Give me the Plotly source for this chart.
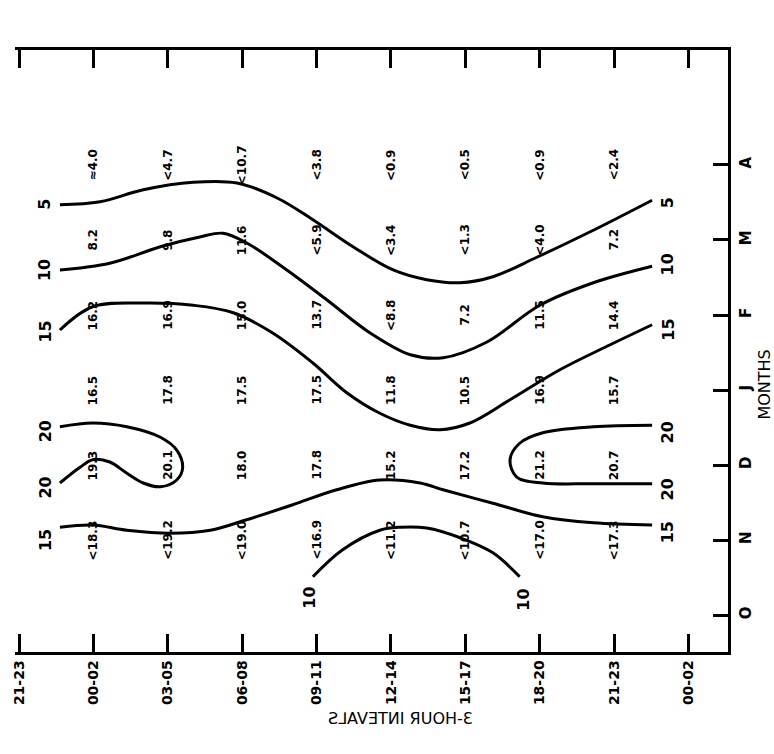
import plotly.graph_objects as go

# ---- axes ----
time_labels = ["21-23", "00-02", "03-05", "06-08", "09-11", "12-14", "15-17", "18-20", "21-23", "00-02"]
month_labels = ["O", "N", "D", "J", "F", "M", "A"]

# ---- cell values (columns = intervals 00-02 .. 21-23, index 1..8) ----
value_cols = [1, 2, 3, 4, 5, 6, 7, 8]
vals_A = ["≈4.0", "<4.7", "<10.7", "<3.8", "<0.9", "<0.5", "<0.9", "<2.4"]
vals_M = ["8.2", "9.8", "11.6", "<5.9", "<3.4", "<1.3", "<4.0", "7.2"]
vals_F = ["16.2", "16.9", "15.0", "13.7", "<8.8", "7.2", "11.5", "14.4"]
vals_J = ["16.5", "17.8", "17.5", "17.5", "11.8", "10.5", "16.9", "15.7"]
vals_D = ["19.3", "20.1", "18.0", "17.8", "15.2", "17.2", "21.2", "20.7"]
vals_N = ["<18.3", "<19.2", "<19.0", "<16.9", "<11.2", "<10.7", "<17.0", "<17.3"]
value_rows = [(6, vals_A), (5, vals_M), (4, vals_F), (3, vals_J), (2, vals_D), (1, vals_N)]

# ---- isolines (x = interval index, y = month index) ----
c5_x = [0.55, 1.09, 1.67, 2.34, 2.93, 3.47, 3.95, 4.49, 5.03, 5.48, 5.93, 6.37, 6.96, 7.72, 8.51]
c5_y = [5.47, 5.51, 5.67, 5.77, 5.76, 5.56, 5.27, 4.91, 4.60, 4.47, 4.43, 4.51, 4.77, 5.13, 5.53]

c10_x = [0.55, 1.22, 1.90, 2.43, 2.74, 3.06, 3.60, 4.14, 4.72, 5.26, 5.70, 6.29, 7.00, 7.72, 8.51]
c10_y = [4.60, 4.69, 4.91, 5.04, 5.09, 4.96, 4.60, 4.20, 3.76, 3.47, 3.43, 3.64, 4.13, 4.43, 4.65]

c15a_x = [0.55, 0.99, 1.67, 2.34, 2.88, 3.41, 3.95, 4.41, 4.85, 5.26, 5.66, 6.06, 6.60, 7.27, 7.94, 8.51]
c15a_y = [3.80, 4.11, 4.16, 4.13, 4.03, 3.76, 3.36, 2.96, 2.69, 2.53, 2.47, 2.56, 2.87, 3.27, 3.60, 3.87]

c20a_x = [0.55, 0.99, 1.45, 1.90, 2.12, 2.20, 2.12, 1.90, 1.67, 1.45, 1.22, 0.99, 0.82, 0.55]
c20a_y = [2.51, 2.56, 2.51, 2.37, 2.20, 1.97, 1.80, 1.71, 1.76, 1.89, 2.04, 2.07, 1.97, 1.76]

c20b_x = [8.51, 7.72, 7.04, 6.73, 6.60, 6.69, 7.04, 7.72, 8.51]
c20b_y = [2.53, 2.51, 2.43, 2.29, 2.07, 1.84, 1.76, 1.75, 1.75]

c15b_x = [0.55, 0.99, 1.45, 2.03, 2.57, 3.06, 3.68, 4.27, 4.85, 5.39, 5.70, 6.37, 7.04, 7.72, 8.51]
c15b_y = [1.17, 1.20, 1.13, 1.09, 1.13, 1.27, 1.47, 1.67, 1.80, 1.76, 1.67, 1.49, 1.31, 1.23, 1.20]

c10b_x = [3.95, 4.35, 4.85, 5.12, 5.48, 5.93, 6.37, 6.73]
c10b_y = [0.51, 0.87, 1.13, 1.17, 1.16, 1.03, 0.83, 0.51]

isolines = [(c5_x, c5_y), (c10_x, c10_y), (c15a_x, c15a_y), (c20a_x, c20a_y),
            (c20b_x, c20b_y), (c15b_x, c15b_y), (c10b_x, c10b_y)]

# isoline labels: text, x, y
iso_label_text = ["5", "10", "15", "20", "20", "15", "5", "10", "15", "20", "20", "15", "10", "10"]
iso_label_x = [0.35, 0.35, 0.35, 0.35, 0.35, 0.35, 8.72, 8.72, 8.72, 8.72, 8.72, 8.72, 3.91, 6.77]
iso_label_y = [5.47, 4.60, 3.78, 2.45, 1.70, 1.00, 5.50, 4.67, 3.80, 2.43, 1.67, 1.10, 0.23, 0.20]

FONT = "DejaVu Sans"

fig = go.Figure()
for xs, ys in isolines:
    fig.add_trace(go.Scatter(x=xs, y=ys, mode="lines",
                             line=dict(color="black", width=3, shape="spline", smoothing=1.0),
                             hoverinfo="skip", showlegend=False))

annotations = []
for my, row in value_rows:
    for ix, txt in zip(value_cols, row):
        annotations.append(dict(x=ix, y=my, xref="x", yref="y", text="<b>" + txt + "</b>", showarrow=False,
                                textangle=-90, font=dict(family=FONT, size=12, color="black")))
for t, x, y in zip(iso_label_text, iso_label_x, iso_label_y):
    annotations.append(dict(x=x, y=y, xref="x", yref="y", text="<b>" + t + "</b>", showarrow=False,
                            textangle=-90, font=dict(family=FONT, size=16, color="black")))
annotations.append(dict(x=1.066, y=0.4435, xref="paper", yref="paper", text="MONTHS", showarrow=False,
                        textangle=-90, font=dict(family=FONT, size=16, color="black")))
annotations.append(dict(x=0.54, y=-0.13, xref="paper", yref="paper", text="Ƨ⅃AVƎTИI ЯUOH-Ɛ",
                        showarrow=False, font=dict(family=FONT, size=16, color="black")))

fig.update_layout(
    width=774, height=754,
    margin=dict(l=15, r=46, t=50, b=102, pad=0),
    paper_bgcolor="white", plot_bgcolor="white",
    showlegend=False,
    annotations=annotations,
    xaxis=dict(range=[-0.054, 9.53], tickmode="array", tickvals=list(range(10)),
               ticktext=["<b>" + t + "</b>" for t in time_labels],
               tickangle=-90, ticks="inside", ticklen=18, tickwidth=2.5, tickcolor="black",
               showline=True, linewidth=2.5, linecolor="black", mirror="ticks",
               showgrid=False, zeroline=False, tickfont=dict(family=FONT, size=14, color="black")),
    yaxis=dict(range=[-0.493, 7.533], side="right", tickmode="array", tickvals=list(range(7)),
               ticktext=["<b>" + m + "</b>" for m in month_labels], tickangle=-90, ticks="inside",
               ticklen=15, tickwidth=2.5,
               tickcolor="black", showline=True, linewidth=2.5, linecolor="black",
               showgrid=False, zeroline=False, ticklabelstandoff=2,
               tickfont=dict(family=FONT, size=15, color="black")),
)

fig.write_html("out.html")
